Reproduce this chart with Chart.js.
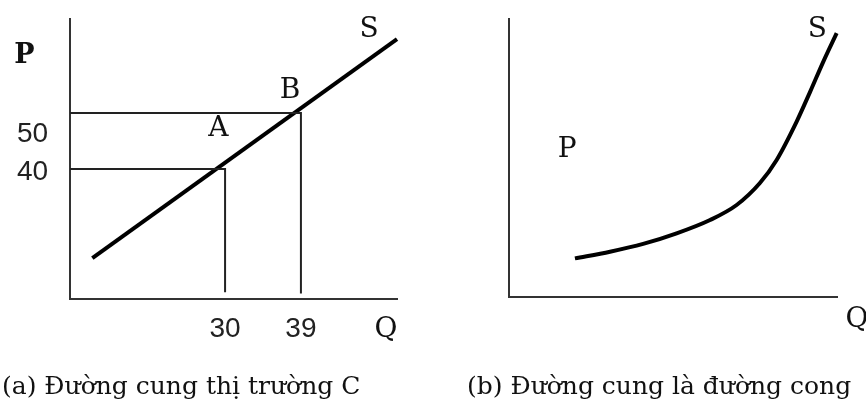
<!DOCTYPE html>
<html>
<head>
<meta charset="utf-8">
<script src="https://cdn.jsdelivr.net/npm/chart.js@4.4.1/dist/chart.umd.min.js"></script>
<style>
  html, body { margin: 0; padding: 0; background: #fff; }
  .wrap { position: relative; width: 866px; height: 401px; overflow: hidden; }
  .panel { position: absolute; top: 0; width: 433px; height: 401px; }
</style>
</head>
<body>
<div class="wrap">
  <div class="panel" style="left:0"><canvas id="chartA" width="433" height="401"></canvas></div>
  <div class="panel" style="left:433px"><canvas id="chartB" width="433" height="401"></canvas></div>
</div>
<script>
// (a) market supply - straight line through A and B
const qRangeA = [11.6, 50.4];
const pRangeA = [16.8, 66.8];
const supplyQ = [14.25, 50.4];
const supplyP = [24.1, 63.2];
const pointQ = [30, 39];        // A, B
const pointP = [40, 50];
const dropEndP = [18.0, 17.8];  // vertical guides stop just above the axis
const xTickLabels = ['30', '39'];
const yTickLabels = ['40', '50'];
const yLabelP = [38.0, 44.8];   // where the price numbers sit (baseline)

// (b) curved supply, no numbers on it
const qRangeB = [0, 100];
const pRangeB = [0, 100];
const curveQ = [20.1, 30.8, 40.9, 51.1, 61.3, 69.4, 76.5, 81.6, 87.7, 91.8, 95.8, 99.9];
const curveP = [13.9, 16.3, 19.1, 22.9, 27.7, 33.1, 41.0, 49.3, 63.1, 73.8, 84.6, 94.9];

const captionA = '(a) Đường cung thị trường C';
const captionB = '(b) Đường cung là đường cong';

const serif = '"DejaVu Serif", serif';
const digits = '"Liberation Sans", sans-serif';

const toPoints = (qs, ps) => qs.map((q, i) => ({ x: q, y: ps[i] }));

const axisScale = (range, pos) => ({
	type: 'linear',
	position: pos,
	min: range[0],
	max: range[1],
	ticks: { display: false },
	grid: { display: false, drawTicks: false },
	border: { display: true, color: '#333', width: 2 },
});

// draws letters / numbers at data positions, plus the caption under the panel
const makeTextPlugin = (items, caption) => ({
	id: 'textMarks',
	afterDraw(chart) {
		const { ctx, scales } = chart;
		ctx.save();
		ctx.textBaseline = 'alphabetic';
		items.forEach(t => {
			ctx.font = t.font;
			ctx.fillStyle = t.color || '#111';
			ctx.textAlign = t.align || 'center';
			ctx.fillText(t.text, scales.x.getPixelForValue(t.q), scales.y.getPixelForValue(t.p));
		});
		ctx.font = '25px ' + serif;
		ctx.fillStyle = '#111';
		ctx.textAlign = 'left';
		ctx.fillText(caption.text, caption.x, caption.y);
		ctx.restore();
	},
});

const lineSet = (data, width, color) => ({
	data,
	showLine: true,
	borderColor: color,
	borderWidth: width,
	pointRadius: 0,
	fill: false,
	clip: false,
});

const baseOptions = (qRange, pRange, padding) => ({
	responsive: false,
	animation: false,
	layout: { padding },
	plugins: { legend: { display: false }, tooltip: { enabled: false } },
	scales: { x: axisScale(qRange, 'bottom'), y: axisScale(pRange, 'left') },
});

// ---- chart (a)
const guides = pointQ.map((q, i) => [
	{ x: qRangeA[0], y: pointP[i] },
	{ x: q, y: pointP[i] },
	{ x: q, y: dropEndP[i] },
]);

const textA = [
	{ text: 'P', q: 6.2, p: 58.9, font: 'bold 27px ' + serif },
	{ text: 'S', q: 47.1, p: 63.6, font: '28px ' + serif },
	{ text: 'B', q: 37.7, p: 52.7, font: '28px ' + serif },
	{ text: 'A', q: 29.2, p: 45.9, font: '28px ' + serif },
	{ text: 'Q', q: 49.1, p: 10.0, font: '28px ' + serif },
	...xTickLabels.map((t, i) => ({ text: t, q: pointQ[i], p: 10.0, font: '28px ' + digits, color: '#222' })),
	...yTickLabels.map((t, i) => ({ text: t, q: 9.0, p: yLabelP[i], font: '28px ' + digits, color: '#222', align: 'right' })),
];

new Chart(document.getElementById('chartA'), {
	type: 'scatter',
	data: {
		datasets: [
			lineSet(guides[0], 2, '#222'),
			lineSet(guides[1], 2, '#222'),
			lineSet(toPoints(supplyQ, supplyP), 4, '#000'),
		],
	},
	options: baseOptions(qRangeA, pRangeA, { left: 70, right: 36, top: 19, bottom: 102 }),
	plugins: [makeTextPlugin(textA, { text: captionA, x: 2, y: 394 })],
});

// ---- chart (b)
const textB = [
	{ text: 'S', q: 94.0, p: 93.5, font: '28px ' + serif },
	{ text: 'P', q: 17.7, p: 50.4, font: '28px ' + serif },
	{ text: 'Q', q: 106.1, p: -10.8, font: '28px ' + serif },
];

new Chart(document.getElementById('chartB'), {
	type: 'scatter',
	data: {
		datasets: [
			{ ...lineSet(toPoints(curveQ, curveP), 4, '#000'), cubicInterpolationMode: 'monotone' },
		],
	},
	options: baseOptions(qRangeB, pRangeB, { left: 76, right: 29, top: 19, bottom: 104 }),
	plugins: [makeTextPlugin(textB, { text: captionB, x: 34, y: 394 })],
});
</script>
</body>
</html>
